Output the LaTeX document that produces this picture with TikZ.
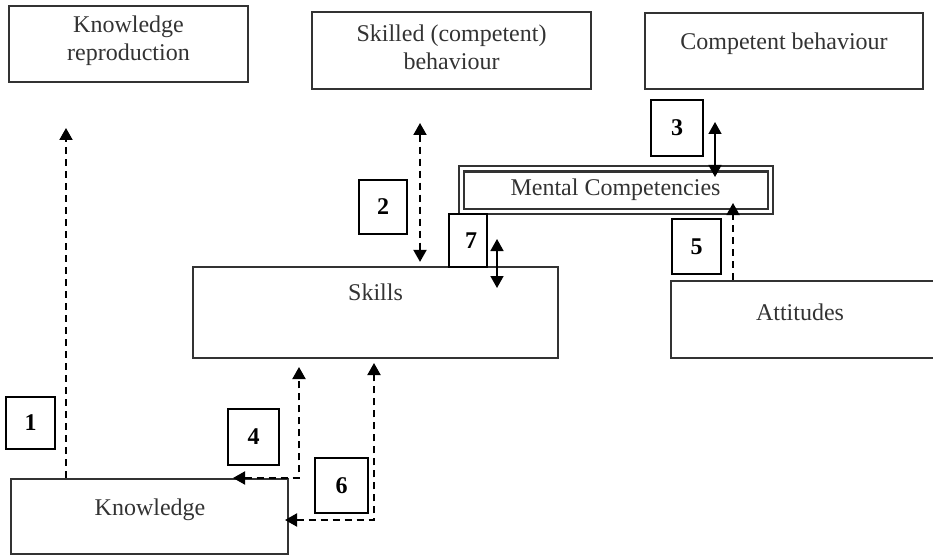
\documentclass[tikz,border=0pt]{standalone}
\usepackage{fontspec}
\setmainfont{Liberation Serif}
\usetikzlibrary{arrows.meta,calc}
\definecolor{boxgray}{HTML}{333333}
\definecolor{txtgray}{HTML}{333333}
\tikzset{
  bigbox/.style={draw=boxgray, line width=2.2pt, rectangle, inner sep=0pt},
  numbox/.style={draw=black, line width=1.4pt, rectangle, inner sep=0pt, font=\fontsize{24}{28}\selectfont\bfseries},
  lbl/.style={text=txtgray, font=\fontsize{24}{28}\selectfont, align=center, inner sep=0pt},
  dashconn/.style={line width=1.9pt, dash pattern=on 7pt off 5pt},
  solidconn/.style={line width=1.6pt},
}
\begin{document}
\begin{tikzpicture}[x=1pt,y=-1pt,>={Triangle[width=13pt,length=12pt]}]
\useasboundingbox (0,0) rectangle (933,556);
\clip (0,0) rectangle (933,556);
% big boxes
\node[bigbox, minimum width=239pt, minimum height=76pt] (kr) at (128.5,44) {};
\node[lbl] (krt) at (128.5,41) {Knowledge\\reproduction};
\node[bigbox, minimum width=279pt, minimum height=77pt] (sb) at (451.5,50.5) {};
\node[lbl] (sbt) at (451.5,47) {Skilled (competent)\\behaviour};
\node[bigbox, minimum width=278pt, minimum height=76pt] (cb) at (784,51) {};
\node[lbl] (cbt) at (784,44) {Competent behaviour};
\node[draw=boxgray, line width=2pt, double, double distance=3pt, rectangle, inner sep=0pt, minimum width=309pt, minimum height=42pt] (mc) at (615.5,190) {};
\node[lbl] (mct) at (615.5,190) {Mental Competencies};
\node[bigbox, minimum width=365pt, minimum height=91pt] (sk) at (375.5,312.5) {};
\node[lbl] (skt) at (375.5,292) {Skills};
\node[bigbox, minimum width=290pt, minimum height=77pt] (att) at (816,319.5) {};
\node[lbl] (attt) at (800,312) {Attitudes};
\node[bigbox, minimum width=277pt, minimum height=75pt] (kn) at (149.5,516.5) {};
\node[lbl] (knt) at (150,510) {Knowledge};
% number boxes
\node[numbox, minimum width=49pt, minimum height=52pt] (n1) at (30.5,423) {1};
\node[numbox, minimum width=48pt, minimum height=54pt] (n2) at (383,207) {2};
\node[numbox, minimum width=52pt, minimum height=56pt] (n3) at (677,128) {3};
\node[numbox, minimum width=51pt, minimum height=56pt] (n4) at (253.5,437) {4};
\node[numbox, minimum width=49pt, minimum height=55pt] (n5) at (696.5,246.5) {5};
\node[numbox, minimum width=53pt, minimum height=55pt] (n6) at (341.5,485.5) {6};
\node[numbox, minimum width=38pt, minimum height=53pt] (n7) at (468,240.5) {\hspace*{6pt}7};
% connector end points
\coordinate (c1) at (66,128);
\coordinate (c2) at (420,123);
\coordinate (c3t) at (715,122);
\coordinate (c3b) at (715,177);
\coordinate (c5) at (733,203);
\coordinate (c7t) at (497,239);
\coordinate (c7b) at (497,288);
\coordinate (c4a) at (233,478);
\coordinate (c4b) at (299,367);
\coordinate (c6a) at (285,520);
\coordinate (c6b) at (374,363);
% connectors
\draw[dashconn, ->] (kn.north -| c1) -- (c1);
\draw[dashconn, <->] (c2) -- ($(sk.north -| c2)+(0,-4)$);
\draw[solidconn, <->] (c3t) -- (c3b);
\draw[dashconn, ->] (att.north -| c5) -- (c5);
\draw[solidconn, <->] (c7t) -- (c7b);
\draw[dashconn, <->] (c4a) -- (c4a -| c4b) -- (c4b);
\draw[dashconn, <->] (c6a) -- (c6a -| c6b) -- (c6b);
\end{tikzpicture}
\end{document}
